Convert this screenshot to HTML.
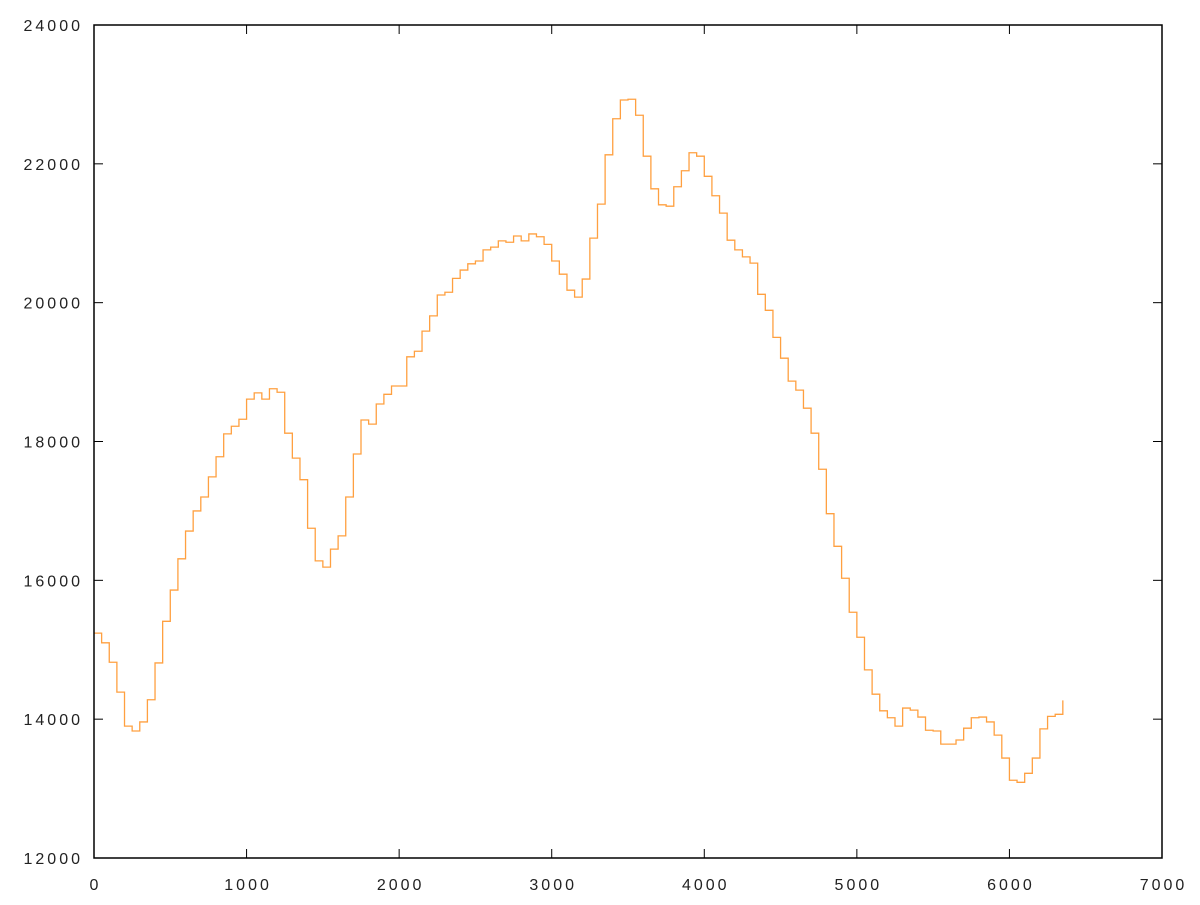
<!DOCTYPE html>
<html><head><meta charset="utf-8"><style>
html,body{margin:0;padding:0;background:#fff;}
svg text{font-family:"Liberation Sans",sans-serif;font-size:16px;letter-spacing:3px;fill:#222;}
</style></head><body>
<svg id="chart" width="1200" height="900" viewBox="0 0 1200 900">
<rect x="0" y="0" width="1200" height="900" fill="#fff"/>
<g id="ticks"></g>
<path id="series" fill="none" stroke="#ffa040" stroke-width="1.3"/>
<rect x="94" y="25" width="1068" height="833" fill="none" stroke="#000" stroke-width="1.5"/>
</svg>
<script>
const xStep = 50;
const values = [15240,15100,14820,14390,13900,13830,13960,14280,14810,15410,15860,16310,16710,17000,17200,17490,17780,18110,18220,18320,18610,18700,18610,18760,18710,18120,17760,17450,16750,16280,16190,16450,16640,17200,17820,18310,18250,18540,18680,18800,18800,19220,19300,19590,19810,20110,20150,20350,20470,20560,20600,20760,20800,20890,20870,20960,20890,20990,20950,20840,20600,20410,20180,20080,20340,20930,21420,22130,22650,22920,22930,22700,22110,21640,21410,21390,21670,21900,22160,22110,21820,21540,21290,20900,20760,20660,20570,20120,19890,19500,19200,18870,18740,18480,18120,17600,16960,16490,16030,15540,15180,14710,14360,14120,14020,13900,14160,14130,14030,13840,13830,13640,13640,13700,13870,14020,14030,13960,13770,13440,13120,13090,13220,13440,13860,14040,14070,14270];
const xTicks = [0,1000,2000,3000,4000,5000,6000,7000];
const yTicks = [12000,14000,16000,18000,20000,22000,24000];
const L=94,R=1162,T=25,B=858;
const xs = v => L + (v-0)/(7000-0)*(R-L);
const ys = v => B - (v-12000)/(24000-12000)*(B-T);
const NS="http://www.w3.org/2000/svg";
const g=document.getElementById('ticks');
function el(tag,attrs){const e=document.createElementNS(NS,tag);for(const k in attrs)e.setAttribute(k,attrs[k]);g.appendChild(e);return e;}
xTicks.forEach(v=>{
  const x=xs(v);
  const t1=el('line',{x1:x,x2:x,y1:B,y2:B-9,stroke:'#000','stroke-width':1});
  
  
  const t2=el('line',{x1:x,x2:x,y1:T,y2:T+9,stroke:'#000','stroke-width':1});
  
  
  const tx=el('text',{x:x+1.5,y:890,'text-anchor':'middle'});
  tx.textContent=v;
  
  
});
yTicks.forEach(v=>{
  const y=ys(v);
  const t1=el('line',{x1:L,x2:L+9,y1:y,y2:y,stroke:'#000','stroke-width':1});
  
  
  const t2=el('line',{x1:R,x2:R-9,y1:y,y2:y,stroke:'#000','stroke-width':1});
  
  
  const tx=el('text',{x:83,y:y+6,'text-anchor':'end'});
  tx.textContent=v;
  
  
});
let d='';
values.forEach((v,i)=>{
  const x=xs(i*xStep), y=ys(v);
  if(i===0) d+='M'+x+','+y;
  else d+=' H'+x+' V'+y;
});
document.getElementById('series').setAttribute('d',d);
</script>
</body></html>
